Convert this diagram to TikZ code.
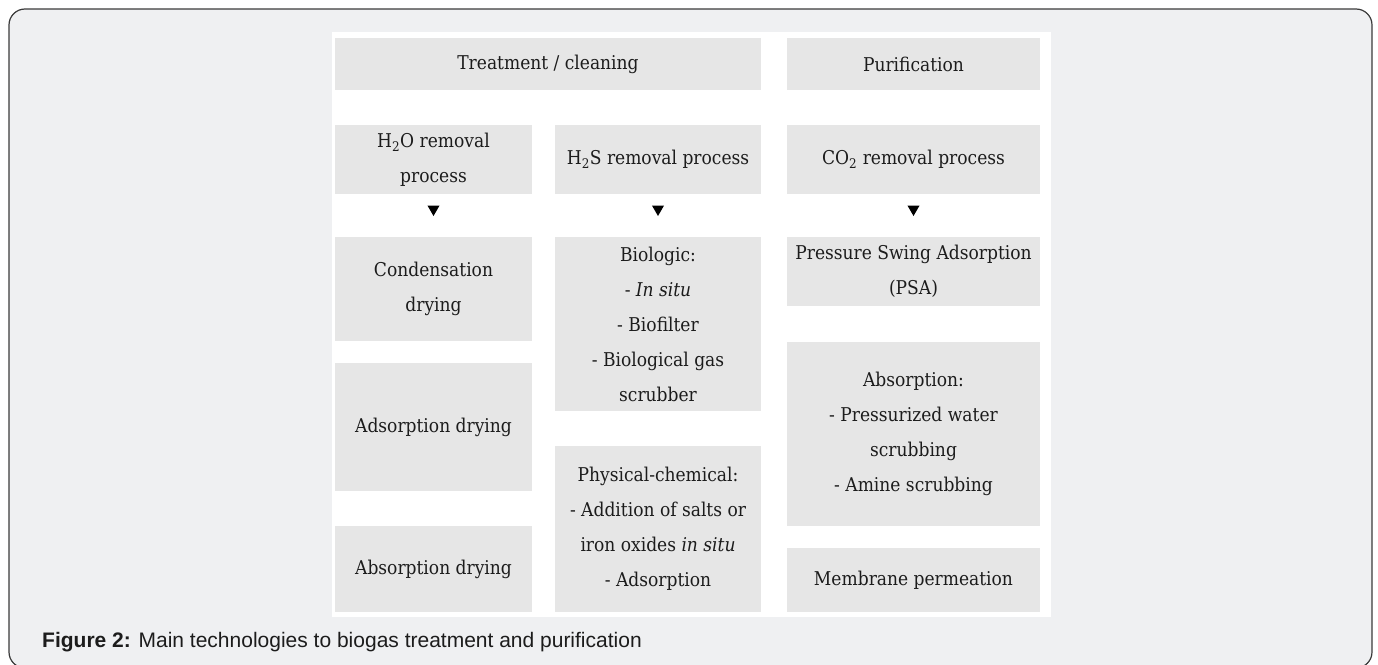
\documentclass[tikz,border=0pt]{standalone}
\usepackage{fontspec}
\usepackage{tikz}
\usetikzlibrary{shapes.geometric}
\newfontfamily\capfont{Liberation Sans}
\newfontfamily\boxfont{DejaVu Serif Condensed}
\definecolor{framebg}{HTML}{EFF0F2}
\definecolor{boxgray}{HTML}{E6E6E6}
\definecolor{framedraw}{HTML}{3A3A3A}
\definecolor{txt}{HTML}{1C1C1C}

\begin{document}
\begin{tikzpicture}[x=1pt,y=-1pt,
  gbox/.style={fill=boxgray, text=txt, align=center, inner sep=0pt, font=\boxfont\fontsize{19}{35}\selectfont},
  tri/.style={regular polygon, regular polygon sides=3, shape border rotate=180, fill=black, inner sep=0pt, minimum size=14pt}]
\useasboundingbox (0,0) rectangle (1378,664);
% frame and panel
\draw[framedraw, line width=1.2pt, fill=framebg, rounded corners=16pt] (9,9) rectangle (1372,668);
\fill[white] (332,32) rectangle (1051,617);

% headings
\node[gbox, minimum width=426pt, minimum height=52pt] (treat) at (548,64) {Treatment / cleaning};
\node[gbox, minimum width=253pt, minimum height=52pt] (purif) at (913.5,64) {Purification};

% processes
\node[gbox, minimum width=197pt, minimum height=69pt] (h2o) at (433.5,159.5) {H\textsubscript{2}O removal\\process};
\node[gbox, minimum width=206pt, minimum height=69pt] (h2s) at (658,159.5) {H\textsubscript{2}S removal process};
\node[gbox, minimum width=253pt, minimum height=69pt] (co2) at (913.5,159.5) {CO\textsubscript{2} removal process};

\node[tri] (t1) at (433.5,209) {};
\node[tri] (t2) at (658,209) {};
\node[tri] (t3) at (913.5,209) {};

% H2O column
\node[gbox, minimum width=197pt, minimum height=104pt] (cond) at (433.5,289) {Condensation\\drying};
\node[gbox, minimum width=197pt, minimum height=128pt] (adsdry) at (433.5,427) {Adsorption drying};
\node[gbox, minimum width=197pt, minimum height=86pt] (absdry) at (433.5,569) {Absorption drying};

% H2S column
\node[gbox, minimum width=206pt, minimum height=174pt] (bio) at (658,324) {Biologic:\\- \textit{In situ}\\- Biofilter\\- Biological gas\\scrubber};
\node[gbox, minimum width=206pt, minimum height=166pt] (phys) at (658,529) {Physical-chemical:\\- Addition of salts or\\iron oxides \textit{in situ}\\- Adsorption};

% CO2 column
\node[gbox, minimum width=253pt, minimum height=69pt] (psa) at (913.5,271.5) {Pressure Swing Adsorption\\(PSA)};
\node[gbox, minimum width=253pt, minimum height=184pt] (absorb) at (913.5,434) {Absorption:\\- Pressurized water\\scrubbing\\- Amine scrubbing};
\node[gbox, minimum width=253pt, minimum height=64pt] (memb) at (913.5,580) {Membrane permeation};

% caption
\node[anchor=west, inner sep=0pt, text=txt, font=\capfont\fontsize{21}{25}\selectfont] (cap) at (42,642) {\textbf{Figure 2:} Main technologies to biogas treatment and purification};
\end{tikzpicture}
\end{document}
